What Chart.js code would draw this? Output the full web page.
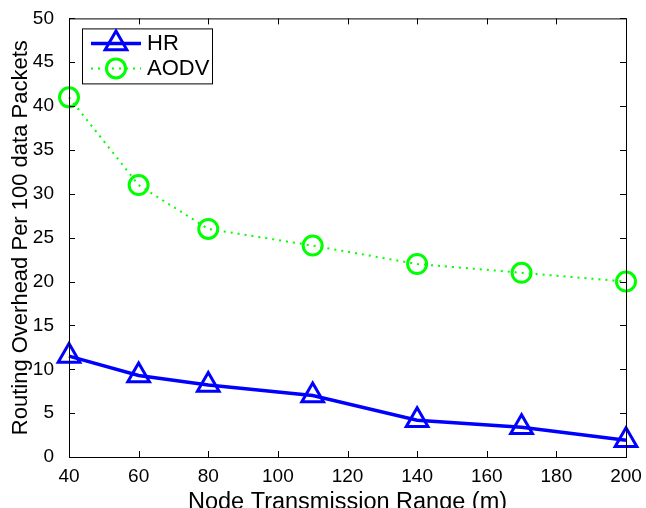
<!DOCTYPE html>
<html lang="en">
<head>
  <meta charset="UTF-8" />
  <title>Routing Overhead vs Node Transmission Range</title>
  <script src="https://cdn.jsdelivr.net/npm/chart.js"></script>
  <style>
    html, body { margin: 0; padding: 0; background: #fff; }
    #wrap { width: 646px; height: 508px; }
  </style>
</head>
<body>
  <div id="wrap"><canvas id="chart" width="646" height="508"></canvas></div>

  <script>
    // data
    const ranges = [40, 60, 80, 110, 140, 170, 200];
    const hrOverhead = [11.5, 9.3, 8.2, 7.0, 4.2, 3.4, 1.9];
    const aodvOverhead = [41.0, 31.0, 26.0, 24.1, 22.0, 21.0, 20.0];
    const xTicks = [40, 60, 80, 100, 120, 140, 160, 180, 200];
    const yTicks = [0, 5, 10, 15, 20, 25, 30, 35, 40, 45, 50];

    const FONT = 'Liberation Sans, Arial, Helvetica, sans-serif';

    // MATLAB style box with inward ticks + legend drawn inside the axes
    const matlabBox = {
      id: 'matlabBox',
      afterDraw(chart) {
        const { ctx, chartArea: a, scales } = chart;
        const tl = 6;
        ctx.save();
        ctx.strokeStyle = '#000';
        ctx.lineWidth = 1;
        ctx.strokeRect(a.left + 0.5, a.top + 0.5, a.right - a.left, a.bottom - a.top);
        ctx.beginPath();
        xTicks.forEach(v => {
          const x = Math.round(scales.x.getPixelForValue(v)) + 0.5;
          ctx.moveTo(x, a.bottom); ctx.lineTo(x, a.bottom - tl);
          ctx.moveTo(x, a.top); ctx.lineTo(x, a.top + tl);
        });
        yTicks.forEach(v => {
          const y = Math.round(scales.y.getPixelForValue(v)) + 0.5;
          ctx.moveTo(a.left, y); ctx.lineTo(a.left + tl, y);
          ctx.moveTo(a.right, y); ctx.lineTo(a.right - tl, y);
        });
        ctx.stroke();

        // legend
        const lx = a.left + 13, ly = a.top + 10, lw = 130, lh = 55;
        ctx.fillStyle = '#fff';
        ctx.fillRect(lx, ly, lw, lh);
        ctx.strokeRect(lx + 0.5, ly + 0.5, lw, lh);
        ctx.font = '22px ' + FONT;
        ctx.textBaseline = 'middle';
        chart.data.datasets.forEach((ds, i) => {
          const cy = ly + 15 + i * 25;
          const x0 = lx + 9, x1 = lx + 59, cx = (x0 + x1) / 2;
          ctx.strokeStyle = ds.borderColor;
          ctx.lineWidth = ds.borderWidth;
          ctx.setLineDash(ds.borderDash || []);
          ctx.beginPath(); ctx.moveTo(x0, cy); ctx.lineTo(x1, cy); ctx.stroke();
          ctx.setLineDash([]);
          ctx.lineWidth = ds.pointBorderWidth;
          ctx.beginPath();
          if (ds.pointStyle === 'triangle') {
            const r = ds.pointRadius;
            ctx.moveTo(cx, cy - r);
            ctx.lineTo(cx + r * Math.sin(Math.PI * 2 / 3), cy - r * Math.cos(Math.PI * 2 / 3));
            ctx.lineTo(cx - r * Math.sin(Math.PI * 2 / 3), cy - r * Math.cos(Math.PI * 2 / 3));
            ctx.closePath();
          } else {
            ctx.arc(cx, cy, ds.pointRadius, 0, Math.PI * 2);
          }
          ctx.stroke();
          ctx.fillStyle = '#000';
          ctx.fillText(ds.label, lx + 65, cy + 1);
        });
        ctx.restore();
      }
    };

    new Chart(document.getElementById('chart').getContext('2d'), {
      type: 'line',
      data: {
        datasets: [
          {
            label: 'HR',
            data: ranges.map((x, i) => ({ x, y: hrOverhead[i] })),
            borderColor: '#0000ff',
            borderWidth: 3.5,
            pointStyle: 'triangle',
            pointRadius: 12.5,
            pointBorderWidth: 3,
            pointBackgroundColor: 'rgba(0,0,0,0)',
            pointBorderColor: '#0000ff',
            tension: 0
          },
          {
            label: 'AODV',
            data: ranges.map((x, i) => ({ x, y: aodvOverhead[i] })),
            borderColor: '#00ff00',
            borderWidth: 2,
            borderDash: [2, 5],
            pointStyle: 'circle',
            pointRadius: 9.5,
            pointBorderWidth: 3,
            pointBackgroundColor: 'rgba(0,0,0,0)',
            pointBorderColor: '#00ff00',
            tension: 0
          }
        ]
      },
      options: {
        responsive: false,
        animation: false,
        clip: false,
        layout: { padding: { left: 0, top: 17, right: 20, bottom: 0 } },
        plugins: { legend: { display: false }, tooltip: { enabled: false } },
        scales: {
          x: {
            type: 'linear',
            min: 40, max: 200,
            afterBuildTicks: s => { s.ticks = xTicks.map(v => ({ value: v })); },
            afterFit: s => { s.height = 51; },
            grid: { display: false },
            border: { display: false },
            ticks: { color: '#000', font: { family: FONT, size: 19 }, padding: 0, maxRotation: 0 },
            title: {
              display: true,
              text: 'Node Transmission Range (m)',
              color: '#000',
              font: { family: FONT, size: 23.5, lineHeight: 0.45 },
              padding: 0
            }
          },
          y: {
            min: 0, max: 50,
            afterBuildTicks: s => { s.ticks = yTicks.map(v => ({ value: v })); },
            afterFit: s => { s.width = 69; },
            grid: { display: false },
            border: { display: false },
            ticks: { color: '#000', font: { family: FONT, size: 19 }, padding: 7 },
            title: {
              display: true,
              text: 'Routing Overhead Per 100 data Packets',
              color: '#000',
              font: { family: FONT, size: 22 },
              padding: { top: 8, bottom: 0 }
            }
          }
        }
      },
      plugins: [matlabBox]
    });
  </script>
</body>
</html>
